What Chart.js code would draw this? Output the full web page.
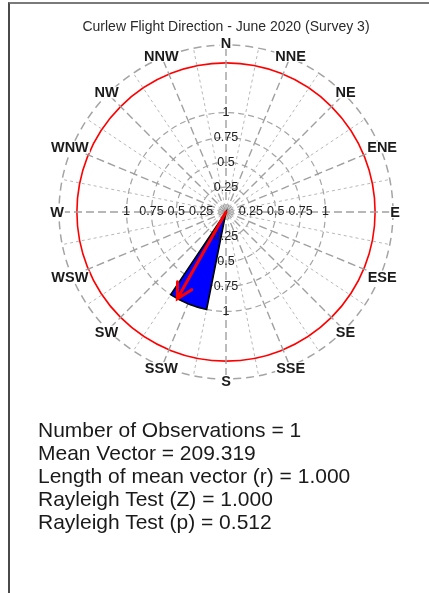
<!DOCTYPE html>
<html>
<head>
<meta charset="utf-8">
<script src="https://cdn.jsdelivr.net/npm/chart.js@4/dist/chart.umd.min.js"></script>
<style>
  html, body { margin: 0; padding: 0; background: #fff; }
  #wrap { position: relative; width: 429px; height: 593px; overflow: hidden; }
  #chart { position: absolute; left: 0; top: 0; }
  #frame { position: absolute; left: 8px; top: 2px; width: 440px; height: 600px;
           border-left: 2px solid #4a4a4a; border-top: 2px solid #7a7a7a; box-sizing: border-box; }
  #stats { position: absolute; left: 38px; top: 418px; font-family: 'Liberation Sans', Arial, sans-serif;
           font-size: 21px; line-height: 23px; color: #1a1a1a; white-space: pre; }
</style>
</head>
<body>
<div id="wrap">
  <canvas id="chart" width="429" height="400"></canvas>
  <div id="frame"></div>
  <div id="stats"></div>
</div>
<script>
// 16 compass bins, each 22.5 degrees wide and centred on its direction
const compass = ['N','NNE','NE','ENE','E','ESE','SE','SSE','S','SSW','SW','WSW','W','WNW','NW','NNW'];
// relative frequency of flights per bin (one bird, heading SSW)
const binFreq = [0,0,0,0,0,0,0,0,0,1,0,0,0,0,0,0];
// radial rings and their labels
const ringValues = [0, 0.25, 0.5, 0.75, 1, 1.5, 1.68];
const tickLabels = ['0.25', '0.5', '0.75', '1'];
const tickValues = [0.25, 0.5, 0.75, 1];
const criticalRing = 1.5;
const radialMax = 1.68;
// mean vector
const meanAngle = 209.319;
const meanLength = 1.0;
// summary lines
const statLines = [
  'Number of Observations = 1',
  'Mean Vector = 209.319',
  'Length of mean vector (r) = 1.000',
  'Rayleigh Test (Z) = 1.000',
  'Rayleigh Test (p) = 0.512'
];

document.getElementById('stats').textContent = statLines.join('\n');

// 32 spokes: compass directions with half-way lines between them
const spokeLabels = [];
compass.forEach(c => { spokeLabels.push(''); spokeLabels.push(c); });

const FONT = "'Liberation Sans', Arial, sans-serif";

const roseOverlay = {
  id: 'roseOverlay',
  afterDatasetsDraw(chart) {
    const s = chart.scales.r;
    const ctx = chart.ctx;
    ctx.save();
    // radial value labels along the four cardinal spokes
    ctx.font = '12.5px ' + FONT;
    ctx.fillStyle = '#222';
    ctx.textAlign = 'center';
    ctx.textBaseline = 'middle';
    [1, 9, 17, 25].forEach(idx => {
      tickValues.forEach((v, i) => {
        const p = s.getPointPosition(idx, s.getDistanceFromCenterForValue(v));
        ctx.fillText(tickLabels[i], p.x, p.y);
      });
    });
    // compass names on the outer ring
    ctx.font = 'bold 14.5px ' + FONT;
    const outer = s.getDistanceFromCenterForValue(radialMax) + 2;
    compass.forEach((c, k) => {
      const p = s.getPointPosition(2 * k + 1, outer);
      const w = ctx.measureText(c).width;
      ctx.fillStyle = '#fff';
      ctx.fillRect(p.x - w / 2 - 1, p.y - 6, w + 2, 12);
      ctx.fillStyle = '#1a1a1a';
      ctx.fillText(c, p.x, p.y + 1);
    });
    // mean vector arrow
    const a = meanAngle * Math.PI / 180;
    const d = s.getDistanceFromCenterForValue(meanLength);
    const tx = s.xCenter + d * Math.sin(a);
    const ty = s.yCenter - d * Math.cos(a);
    ctx.strokeStyle = '#ff0000';
    ctx.lineWidth = 3;
    ctx.lineCap = 'round';
    ctx.beginPath();
    ctx.moveTo(s.xCenter, s.yCenter);
    ctx.lineTo(tx, ty);
    const head = 17, spread = 0.5;
    const back = Math.atan2(s.yCenter - ty, s.xCenter - tx);
    ctx.moveTo(tx + head * Math.cos(back - spread), ty + head * Math.sin(back - spread));
    ctx.lineTo(tx, ty);
    ctx.lineTo(tx + head * Math.cos(back + spread), ty + head * Math.sin(back + spread));
    ctx.stroke();
    ctx.restore();
  }
};

new Chart(document.getElementById('chart'), {
  type: 'polarArea',
  data: {
    labels: spokeLabels,
    datasets: [{
      data: binFreq,
      backgroundColor: '#0000ff',
      borderColor: '#000',
      borderWidth: c => (c.raw > 0 ? 1.6 : 0),
      borderJoinStyle: 'miter'
    }]
  },
  options: {
    responsive: false,
    animation: false,
    devicePixelRatio: 1,
    layout: { padding: { left: 58, right: 35, top: 0, bottom: 20 } },
    plugins: {
      legend: { display: false },
      tooltip: { enabled: false },
      title: {
        display: true,
        text: 'Curlew Flight Direction - June 2020 (Survey 3)',
        color: '#2a2a2a',
        font: { family: FONT, size: 14, weight: 'normal' },
        padding: { top: 19, bottom: 10 }
      }
    },
    scales: {
      r: {
        min: 0,
        max: radialMax,
        startAngle: -11.25,
        afterBuildTicks: sc => { sc.ticks = ringValues.map(v => ({ value: v })); },
        ticks: { display: false },
        pointLabels: { display: false },
        grid: {
          circular: true,
          color: c => (c.tick && c.tick.value === criticalRing ? '#ff0000' : '#a4a4a4'),
          lineWidth: c => (c.tick && c.tick.value === criticalRing ? 1.6 : (c.tick && c.tick.value === radialMax ? 1.5 : 1.2))
        },
        border: {
          dash: c => (c.tick && c.tick.value === criticalRing ? [] : (c.tick && c.tick.value === radialMax ? [8, 5] : [6, 4]))
        },
        angleLines: {
          display: true,
          color: c => (c.index % 2 ? '#a0a0a0' : '#b8b8b8'),
          lineWidth: c => (c.index % 2 ? 1.4 : 1),
          borderDash: c => (c.index % 2 ? [8, 4] : [3, 3])
        }
      }
    }
  },
  plugins: [roseOverlay]
});
</script>
</body>
</html>
